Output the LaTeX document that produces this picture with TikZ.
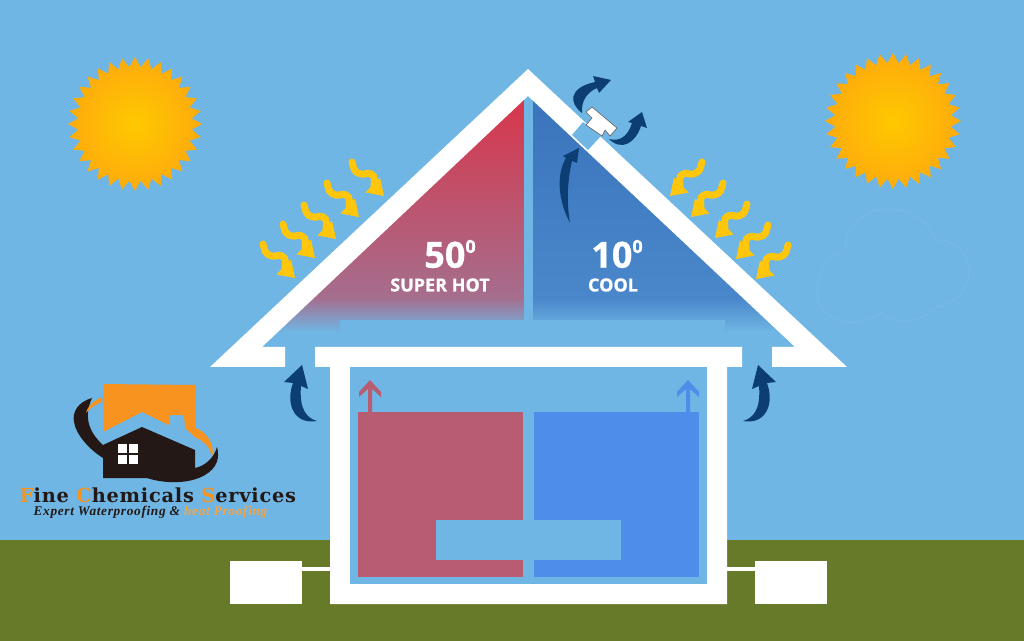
\documentclass[tikz,border=0pt]{standalone}
\usepackage{fontspec}
\setmainfont{Liberation Serif}
\newfontfamily\labelfont[BoldFeatures={FakeBold=0.7}]{Open Sans}
\newfontfamily\brandfont[LetterSpace=4]{DejaVu Serif}
\newfontfamily\sloganfont[LetterSpace=5]{Liberation Serif}
\definecolor{sky}{HTML}{6FB6E4}
\definecolor{ground}{HTML}{667A2A}
\definecolor{hotroom}{HTML}{B85C72}
\definecolor{coolroom}{HTML}{4F8DEB}
\definecolor{hottop}{HTML}{D8364A}
\definecolor{hotlow}{HTML}{A56E8E}
\definecolor{cooltop}{HTML}{3A74BC}
\definecolor{coollow}{HTML}{4A87CA}
\definecolor{airflow}{HTML}{0C3D73}
\definecolor{heat}{HTML}{FFC60B}
\definecolor{sunmid}{HTML}{FFC800}
\definecolor{sunrim}{HTML}{FDAB0C}
\definecolor{logoorange}{HTML}{F7931E}
\definecolor{logodark}{HTML}{231815}
\definecolor{cloudline}{HTML}{79BAE7}
\tikzset{
  unitbox/.style={fill=white,inner sep=0pt,outer sep=0pt,minimum width=54pt,minimum height=32.25pt},
  pipe/.style={draw=white,line width=2.4pt},
  airarrow/.style={fill=airflow},
  bigtemp/.style={text=white,font=\labelfont\bfseries\fontsize{27}{27}\selectfont,inner sep=0pt},
  smalltemp/.style={text=white,font=\labelfont\bfseries\fontsize{13.5}{13.5}\selectfont,inner sep=0pt},
  waveline/.style={draw=heat,line width=5.2pt,line cap=round},
}
% Wavy heat ray: #1,#2 tail position, #3 = 1 or -1 for its horizontal direction
\newcommand{\heatray}[3]{%
  \begin{scope}[shift={(#1,#2)},xscale=#3]
    \draw[waveline] (0,0) .. controls (2,6) and (1,10) .. (9,12)
      .. controls (13,13) and (15,10) .. (19,12)
      .. controls (24,14) and (22,20) .. (22,25);
    \fill[heat] (32,34) -- (13.5,30.5) -- (28,15.5) -- cycle;
  \end{scope}}
% Spiked sun disc
\newcommand{\sundisc}[3]{%
  \shade[inner color=sunmid,outer color=sunrim,shift={(#1,#2)}]
    plot[domain=0:360,samples=65] (\x:{#3+5*cos(32*\x)}) -- cycle;}
\begin{document}
\begin{tikzpicture}[x=0.75pt,y=-0.75pt]
\useasboundingbox (0,0) rectangle (1024,641);
\fill[sky] (0,0) rectangle (1024,641);
\fill[ground] (0,540) rectangle (1024,641);

% Suns
\sundisc{135}{124}{62}
\sundisc{893}{121}{63}

% Faint cloud outline
\draw[cloudline,line width=0.6pt] (845,250) .. controls (845,222) and (868,209) .. (888,209)
  .. controls (910,209) and (930,222) .. (935,240)
  .. controls (955,238) and (970,255) .. (969,272)
  .. controls (968,295) and (950,305) .. (935,308)
  .. controls (925,320) and (900,328) .. (881,313)
  .. controls (865,325) and (835,328) .. (822,308)
  .. controls (810,290) and (820,258) .. (845,250) -- cycle;

% Attic: hot side
\begin{scope}
  \clip (524,97) -- (524,347) -- (262,347) -- cycle;
  \shade[top color=hottop,bottom color=hotlow] (250,97) rectangle (524,298);
  \shade[top color=hotlow,bottom color=sky] (250,298) rectangle (524,332);
\end{scope}
% Attic: cool side
\begin{scope}
  \clip (533,97) -- (533,347) -- (795,347) -- cycle;
  \shade[top color=cooltop,bottom color=coollow] (533,97) rectangle (810,298);
  \shade[top color=coollow,bottom color=sky] (533,298) rectangle (810,332);
\end{scope}
\fill[sky] (340,320) rectangle (725,347);

% Roof frame with its eaves
\fill[white] (528,69) -- (847,367) -- (772,367) -- (772,347) -- (795,347) -- (528,96)
  -- (262,347) -- (285,347) -- (285,367) -- (210,367) -- cycle;
% Ridge vent opening
\fill[sky] (583,122) -- (601,136) -- (588,150) -- (572,135) -- cycle;
\draw[draw=gray!80!black,fill=white,line width=0.5pt] (592,107) -- (586,112) -- (592,118) -- (586,125)
  -- (602,136) -- (605,130) -- (610,136) -- (617,128) -- cycle;

% Walls and ceiling
\fill[white] (315,347) -- (742,347) -- (742,367) -- (727,367) -- (727,604)
  -- (330,604) -- (330,367) -- (315,367) -- cycle;
\fill[sky] (350,367) rectangle (707,584);

% Rooms
\fill[hotroom] (358,412) rectangle (523,577);
\fill[coolroom] (534,412) rectangle (699,577);
\fill[sky] (436,520) rectangle (621,560);

% Rising air in the rooms
\fill[hotroom] (370,380) -- (381,392) -- (381,397) -- (372,389) -- (372,412) -- (368,412)
  -- (368,389) -- (359,397) -- (359,392) -- cycle;
\fill[coolroom] (688,380) -- (699,392) -- (699,397) -- (690,389) -- (690,412) -- (686,412)
  -- (686,389) -- (677,397) -- (677,392) -- cycle;

% Outdoor units and their pipes
\node[unitbox] (unitL) at (266,582.5) {};
\node[unitbox] (unitR) at (791,582.5) {};
\coordinate (wallL) at (330,569);
\coordinate (wallR) at (727,569);
\draw[pipe] (unitL.east |- wallL) -- (wallL);
\draw[pipe] (unitR.west |- wallR) -- (wallR);

% Air flow arrows
\fill[airarrow] (582,113) .. controls (569,103) and (568,88) .. (595,82) -- (593,76) -- (611,80)
  -- (599,93) -- (597,88) .. controls (588,92) and (581,100) .. (582,113) -- cycle;
\fill[airarrow] (609,139) .. controls (620,142) and (628,136) .. (632,123) -- (628,122) -- (642,112)
  -- (647,128) -- (641,126) .. controls (636,142) and (622,152) .. (609,139) -- cycle;
\fill[airarrow] (570,223) .. controls (558,200) and (556,175) .. (566,158) -- (563,156) -- (579,148)
  -- (577,163) -- (572,161) .. controls (568,178) and (566,200) .. (570,223) -- cycle;
\fill[airarrow] (302,365) -- (284,382) -- (293,383) .. controls (285,405) and (295,425) .. (317,421)
  .. controls (307,418) and (299,410) .. (301,386) -- (308,389) -- cycle;
\begin{scope}[shift={(1060,0)},xscale=-1]
  \fill[airarrow] (302,365) -- (284,382) -- (293,383) .. controls (285,405) and (295,425) .. (317,421)
    .. controls (307,418) and (299,410) .. (301,386) -- (308,389) -- cycle;
\end{scope}

% Heat rays on the roof
\heatray{352}{162}{1}
\heatray{327}{183}{1}
\heatray{304}{205}{1}
\heatray{283}{224}{1}
\heatray{263}{244}{1}
\heatray{702}{162}{-1}
\heatray{723}{183}{-1}
\heatray{747}{204}{-1}
\heatray{768}{225}{-1}
\heatray{788}{245}{-1}

% Temperature labels
\node[bigtemp] (hotvalue) at (450,254) {50\raisebox{0.75ex}{\fontsize{13.5}{14}\selectfont 0}};
\node[smalltemp] (hotname) at (440,285) {SUPER HOT};
\node[bigtemp] (coolvalue) at (617,254) {10\raisebox{0.75ex}{\fontsize{13.5}{14}\selectfont 0}};
\node[smalltemp] (coolname) at (613,285) {COOL};

% Company mark
\fill[logoorange] (103,384) -- (195,385) -- (195,437) -- (185,428) -- (184,415) -- (169,415)
  -- (169,425) -- (142,412) -- (103,432) -- cycle;
\fill[logodark] (103,445) -- (142,427) -- (195,450) -- (195,478) -- (103,478) -- cycle;
\fill[logodark] (92,398) .. controls (78,402) and (72,412) .. (74,422)
  .. controls (76,435) and (90,450) .. (103,458) -- (103,445)
  .. controls (92,435) and (82,420) .. (92,398) -- cycle;
\fill[logoorange] (86,413) .. controls (88,405) and (95,400) .. (102,397) -- (102,402)
  .. controls (96,404) and (90,408) .. (86,413) -- cycle;
\fill[logoorange] (195,428) .. controls (205,430) and (216,445) .. (212,457)
  .. controls (210,447) and (205,442) .. (195,437) -- cycle;
\fill[logodark] (147,478) .. controls (165,484) and (190,484) .. (205,475)
  .. controls (217,468) and (220,458) .. (217,447)
  .. controls (214,458) and (205,466) .. (195,468) -- (195,478) -- cycle;
\fill[white] (118,444) rectangle (127,453);
\fill[white] (128.5,444) rectangle (137.5,453);
\fill[white] (118,454.5) rectangle (127,464);
\fill[white] (128.5,454.5) rectangle (137.5,464);

\node[inner sep=0pt,text=logodark,font=\brandfont\bfseries\fontsize{14.5}{15}\selectfont] (brand) at (158,495)
  {{\color{logoorange}F}ine {\color{logoorange}C}hemicals {\color{logoorange}S}ervices};
\node[inner sep=0pt,text=logodark,font=\sloganfont\bfseries\itshape\fontsize{10}{11}\selectfont] (slogan) at (150.5,512)
  {Expert Waterproofing \& {\color{logoorange!85!white}heat Proofing}};
\end{tikzpicture}
\end{document}
